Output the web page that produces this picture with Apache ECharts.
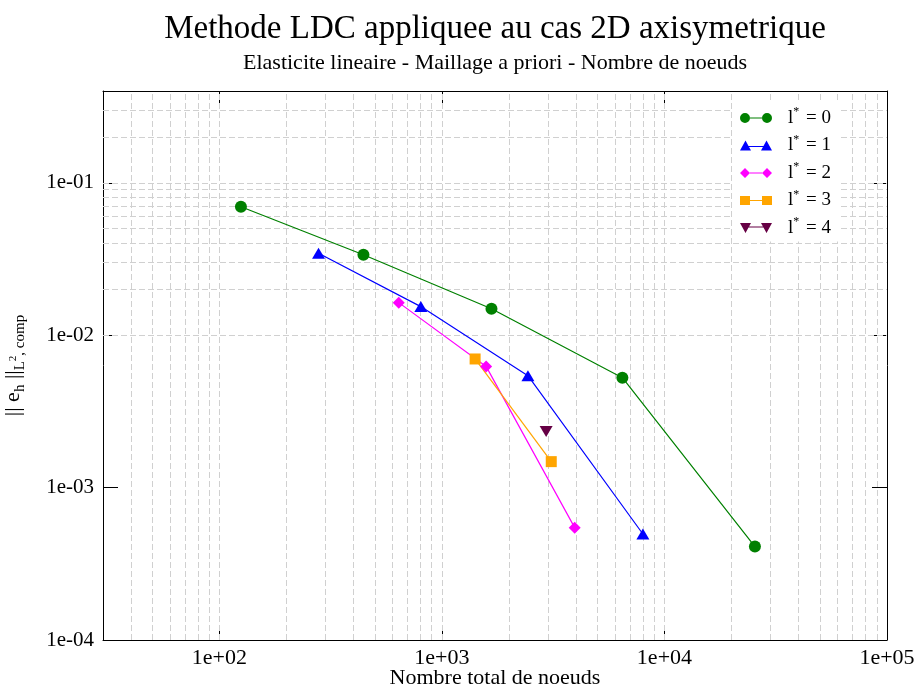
<!DOCTYPE html>
<html>
<head>
<meta charset="utf-8">
<script src="https://cdn.jsdelivr.net/npm/echarts@6/dist/echarts.min.js"></script>
<style>html,body{margin:0;padding:0;background:#fff}#c{width:918px;height:690px}</style>
</head>
<body>
<div id="c"></div>
<script>
// ---- data ----
const seriesNames = ['l* = 0', 'l* = 1', 'l* = 2', 'l* = 3', 'l* = 4'];
const nodes0 = [125, 444, 1670, 6470, 25500];
const err0   = [0.0696, 0.0337, 0.0149, 0.00526, 0.00041];
const nodes1 = [279, 804, 2435, 8000];
const err1   = [0.0345, 0.0154, 0.00542, 0.000496];
const nodes2 = [640, 1580, 3950];
const err2   = [0.01635, 0.00624, 0.000546];
const nodes3 = [1410, 3100];
const err3   = [0.00698, 0.00148];
const nodes4 = [2940];
const err4   = [0.00233];
const xRange = [30, 1e5];
const yRange = [1e-4, 0.4];
const titleText = 'Methode LDC appliquee au cas 2D axisymetrique';
const subtitleText = 'Elasticite lineaire - Maillage a priori - Nombre de noeuds';
const xName = 'Nombre total de noeuds';

const FONT = 'Liberation Serif, Times New Roman, serif';
const colors = ['#008000', '#0000ff', '#ff00ff', '#ffa500', '#660044'];
const zip = (a, b) => a.map((v, i) => [v, b[i]]);

function fmtExp(v) {
  const l = Math.log10(v);
  if (Math.abs(l - Math.round(l)) > 1e-6) return '';
  const e = Math.round(l);
  return '1e' + (e < 0 ? '-' : '+') + String(Math.abs(e)).padStart(2, '0');
}

// grid lines at k*10^d
function logLines(lo, hi) {
  const out = [];
  for (let d = -6; d <= 6; d++) {
    for (let k = 1; k <= 9; k++) {
      const v = k * Math.pow(10, d);
      if (v > lo * 1.0001 && v < hi * 0.9999) out.push(v);
    }
  }
  return out;
}
const gridData = logLines(xRange[0], xRange[1]).map(v => ({ xAxis: v }))
  .concat(logLines(yRange[0], yRange[1]).map(v => ({ yAxis: v })));

const icons = {
  circle: 'path://M0,5A5,5 0 1,0 10,5A5,5 0 1,0 0,5Z M22,5A5,5 0 1,0 32,5A5,5 0 1,0 22,5Z M10,4.4L22,4.4L22,5.6L10,5.6Z',
  tri: 'path://M0,10L5.5,0L11,10Z M21,10L26.5,0L32,10Z M8,5.4L24,5.4L24,6.6L8,6.6Z',
  diamond: 'path://M0,5L5,0L10,5L5,10Z M22,5L27,0L32,5L27,10Z M10,4.4L22,4.4L22,5.6L10,5.6Z',
  square: 'path://M0,0.5L10,0.5L10,9.5L0,9.5Z M22,0.5L32,0.5L32,9.5L22,9.5Z M10,4.4L22,4.4L22,5.6L10,5.6Z',
  tridown: 'path://M0,0L11,0L5.5,10Z M21,0L32,0L26.5,10Z M8,3.4L24,3.4L24,4.6L8,4.6Z'
};
const legendIcons = [icons.circle, icons.tri, icons.diamond, icons.square, icons.tridown];

const mk = (i, xs, ys, symbol, size) => ({
  name: seriesNames[i], type: 'line', data: zip(xs, ys),
  symbol: symbol, symbolSize: size, z: 3,
  itemStyle: { color: colors[i] }, lineStyle: { color: colors[i], width: 1.2 },
  animation: false
});

const axisCommon = {
  type: 'log', logBase: 10,
  axisLine: { show: true, onZero: false, lineStyle: { color: '#000', width: 1 } },
  axisTick: { show: true, inside: true, length: 15, lineStyle: { color: '#000', width: 1 } },
  splitLine: { show: false }, minorTick: { show: false }
};

const option = {
  backgroundColor: '#fff',
  animation: false,
  title: [
    { text: titleText, left: 490, top: 8, textAlign: 'center',
      textStyle: { fontFamily: FONT, fontSize: 33, fontWeight: 'normal', color: '#000' } },
    { text: subtitleText, left: 490, top: 47, textAlign: 'center',
      textStyle: { fontFamily: FONT, fontSize: 22, fontWeight: 'normal', color: '#000' } }
  ],
  grid: { left: 103, right: 31, top: 91, bottom: 50, containLabel: false, outerBoundsMode: 'none' },
  legend: {
    orient: 'vertical', left: 732, top: 102, z: 20,
    itemWidth: 32, itemHeight: 11, itemGap: 6,
    backgroundColor: '#fff', padding: [4, 10, 4, 8],
    data: seriesNames.map((n, i) => ({ name: n, icon: legendIcons[i] })),
    formatter: name => '{l|l}{s|*}{t| = ' + name.split('=')[1].trim() + '}',
    textStyle: {
      fontFamily: FONT, fontSize: 19, color: '#000',
      rich: {
        l: { fontFamily: FONT, fontSize: 19, lineHeight: 24, padding: [0, 0, 0, 11] },
        s: { fontFamily: FONT, fontSize: 12, lineHeight: 12, verticalAlign: 'top', padding: [0, 2, 0, 0] },
        t: { fontFamily: FONT, fontSize: 19, lineHeight: 24 }
      }
    }
  },
  xAxis: [
    Object.assign({}, axisCommon, {
      position: 'bottom', min: xRange[0], max: xRange[1],
      name: xName, nameLocation: 'middle', nameGap: 27, nameMoveOverlap: false,
      nameTextStyle: { fontFamily: FONT, fontSize: 22, color: '#000', verticalAlign: 'top' },
      axisLabel: { show: true, formatter: fmtExp, margin: 7, fontFamily: FONT, fontSize: 22, color: '#000',
        showMinLabel: true, showMaxLabel: true, hideOverlap: false }
    }),
    Object.assign({}, axisCommon, {
      position: 'top', min: xRange[0], max: xRange[1], axisLabel: { show: false }
    })
  ],
  yAxis: [
    Object.assign({}, axisCommon, {
      position: 'left', min: yRange[0], max: yRange[1],
      name: '{n||| e}{sub|h}{n| ||}{sub|L}{sup|2}{sub|, comp}',
      nameLocation: 'middle', nameGap: 75, nameRotate: 90, nameMoveOverlap: false,
      nameTextStyle: {
        fontFamily: FONT, fontSize: 22, color: '#000',
        rich: {
          n: { fontFamily: FONT, fontSize: 22, lineHeight: 30, verticalAlign: 'middle' },
          sub: { fontFamily: FONT, fontSize: 15, lineHeight: 15, verticalAlign: 'bottom' },
          sup: { fontFamily: FONT, fontSize: 11, lineHeight: 11, verticalAlign: 'middle' }
        }
      },
      axisLabel: { show: true, formatter: fmtExp, margin: 9, fontFamily: FONT, fontSize: 21, color: '#000',
        showMinLabel: true, showMaxLabel: true, hideOverlap: false }
    }),
    Object.assign({}, axisCommon, {
      position: 'right', min: yRange[0], max: yRange[1], axisLabel: { show: false }
    })
  ],
  series: [
    {
      name: 'grid', type: 'line', data: [[1000, 0.01]], symbol: 'none', z: 1,
      lineStyle: { opacity: 0 }, silent: true, animation: false,
      markLine: {
        z: 1, silent: true, symbol: ['none', 'none'], animation: false,
        label: { show: false },
        lineStyle: { color: '#d0d0d0', width: 1, type: [6, 3] },
        emphasis: { disabled: true },
        data: gridData
      }
    },
    mk(0, nodes0, err0, 'circle', 12),
    mk(1, nodes1, err1, 'triangle', [13, 11]),
    mk(2, nodes2, err2, 'diamond', [12, 12]),
    mk(3, nodes3, err3, 'rect', [11, 11]),
    mk(4, nodes4, err4, 'path://M0,0L2,0L1,1.7Z', [13, 11])
  ]
};

const chart = echarts.init(document.getElementById('c'), null, { renderer: 'canvas' });
chart.setOption(option);
</script>
</body>
</html>
